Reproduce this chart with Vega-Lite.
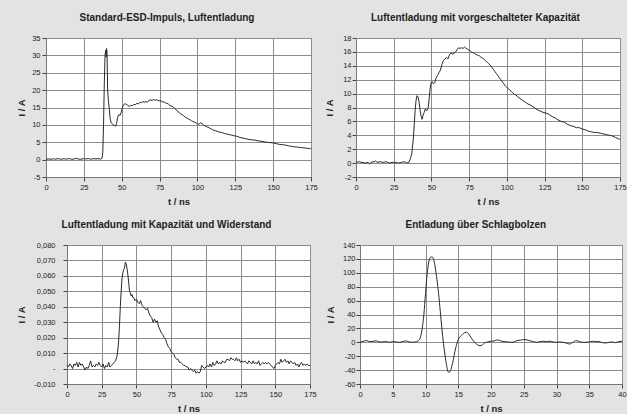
{
  "$schema": "https://vega.github.io/schema/vega-lite/v6.json",
  "background": "#e3e3e3",
  "padding": {"left": 3, "top": 12, "right": 0, "bottom": 0},
  "config": {
    "view": {"stroke": "#8a8a8a", "fill": "white"},
    "axis": {
      "gridColor": "#8c8c8c", "gridOpacity": 1, "gridWidth": 1,
      "domainColor": "#777", "tickColor": "#444", "tickSize": 4,
      "labelFont": "Liberation Sans", "labelFontSize": 7.5, "labelColor": "#222", "labelPadding": 2,
      "labelOverlap": false, "labelFlush": false,
      "titleFont": "Liberation Sans", "titleFontSize": 9.5, "titleFontWeight": "bold", "titleColor": "#222"
    },
    "axisX": {"titlePadding": 6},
    "axisY": {"titlePadding": 5},
    "title": {"font": "Liberation Sans", "fontSize": 10, "fontWeight": "bold", "color": "#222", "frame": "bounds", "anchor": "middle", "offset": 11},
    "line": {"color": "#2a2a2a", "strokeWidth": 1}
  },
  "datasets": {
    "p1": [{"t":0,"v":0.1},{"t":2,"v":0.2},{"t":4,"v":0.1},{"t":5,"v":0.3},{"t":6,"v":0.1},{"t":8,"v":0.3},{"t":9,"v":0.2},{"t":10,"v":0.1},{"t":12,"v":0.3},{"t":13,"v":0.1},{"t":15,"v":0.3},{"t":16,"v":0.2},{"t":18,"v":0.1},{"t":20,"v":0.4},{"t":21,"v":0.2},{"t":23,"v":0.1},{"t":25,"v":0.3},{"t":26,"v":0.2},{"t":28,"v":0.3},{"t":30,"v":0.1},{"t":31,"v":0.3},{"t":33,"v":0.2},{"t":35,"v":0.3},{"t":36,"v":0.1},{"t":37,"v":0.4},{"t":37.5,"v":2},{"t":38,"v":10},{"t":38.5,"v":22},{"t":39,"v":30},{"t":39.4,"v":31.5},{"t":39.7,"v":29.5},{"t":40,"v":32},{"t":40.3,"v":31},{"t":40.7,"v":20},{"t":41.2,"v":17},{"t":41.8,"v":14.5},{"t":42.3,"v":12},{"t":43,"v":10.6},{"t":44,"v":10.2},{"t":45,"v":9.9},{"t":46,"v":9.6},{"t":46.6,"v":10.4},{"t":47.3,"v":12.2},{"t":48,"v":12.9},{"t":49,"v":12.8},{"t":49.6,"v":13.5},{"t":50.5,"v":15.1},{"t":51.2,"v":15.8},{"t":52.2,"v":16.1},{"t":53,"v":15.9},{"t":54,"v":15.6},{"t":55,"v":15.3},{"t":56,"v":15.6},{"t":57,"v":15.5},{"t":58,"v":15.9},{"t":59,"v":15.8},{"t":60,"v":16.2},{"t":61,"v":16.0},{"t":62,"v":16.5},{"t":63,"v":16.4},{"t":64,"v":16.7},{"t":65,"v":16.5},{"t":66,"v":16.7},{"t":67,"v":16.5},{"t":68,"v":17.1},{"t":69,"v":17.2},{"t":70,"v":17.0},{"t":71,"v":17.3},{"t":72,"v":17.1},{"t":73,"v":17.2},{"t":74,"v":17.0},{"t":75,"v":16.9},{"t":76,"v":16.9},{"t":77,"v":16.6},{"t":78,"v":16.6},{"t":79,"v":16.3},{"t":80,"v":16.2},{"t":81,"v":15.9},{"t":82,"v":15.5},{"t":83,"v":15.4},{"t":84,"v":15.2},{"t":85,"v":14.7},{"t":86,"v":14.4},{"t":87,"v":13.8},{"t":88,"v":13.6},{"t":89,"v":13.1},{"t":90,"v":12.9},{"t":91,"v":12.6},{"t":92,"v":12.2},{"t":93,"v":12.0},{"t":94,"v":11.7},{"t":95,"v":11.5},{"t":96,"v":11.2},{"t":97,"v":11.0},{"t":98,"v":10.8},{"t":99,"v":10.6},{"t":100,"v":10.3},{"t":101,"v":10.1},{"t":102,"v":10.6},{"t":103,"v":10.4},{"t":104,"v":10.0},{"t":105,"v":9.7},{"t":106,"v":9.5},{"t":108,"v":9.1},{"t":110,"v":8.6},{"t":112,"v":8.3},{"t":114,"v":8.0},{"t":116,"v":7.8},{"t":118,"v":7.5},{"t":120,"v":7.3},{"t":122,"v":7.1},{"t":124,"v":6.9},{"t":126,"v":6.7},{"t":128,"v":6.4},{"t":130,"v":6.2},{"t":132,"v":6.0},{"t":134,"v":5.8},{"t":136,"v":5.7},{"t":138,"v":5.6},{"t":140,"v":5.4},{"t":142,"v":5.3},{"t":144,"v":5.1},{"t":146,"v":5.0},{"t":148,"v":4.9},{"t":150,"v":4.8},{"t":152,"v":4.6},{"t":154,"v":4.4},{"t":156,"v":4.3},{"t":158,"v":4.2},{"t":160,"v":4.0},{"t":162,"v":3.8},{"t":164,"v":3.7},{"t":166,"v":3.6},{"t":168,"v":3.5},{"t":170,"v":3.4},{"t":172,"v":3.3},{"t":174,"v":3.2},{"t":175,"v":3.1}],
    "p2": [{"t":0,"v":0.1},{"t":2,"v":0.2},{"t":4,"v":0.1},{"t":6,"v":0.0},{"t":8,"v":0.1},{"t":9,"v":-0.1},{"t":10,"v":0.1},{"t":12,"v":0.2},{"t":13,"v":0.3},{"t":14,"v":0.1},{"t":16,"v":0.2},{"t":18,"v":0.1},{"t":20,"v":0.2},{"t":22,"v":0.0},{"t":24,"v":0.1},{"t":26,"v":0.1},{"t":28,"v":0.0},{"t":30,"v":0.1},{"t":32,"v":0.2},{"t":34,"v":0.0},{"t":35,"v":0.1},{"t":36,"v":0.6},{"t":37,"v":1.4},{"t":38,"v":3.5},{"t":38.6,"v":5.5},{"t":39.2,"v":7.6},{"t":39.8,"v":9.0},{"t":40.4,"v":9.7},{"t":41.2,"v":9.5},{"t":41.8,"v":8.8},{"t":42.5,"v":7.6},{"t":43.2,"v":6.7},{"t":43.8,"v":6.3},{"t":44.5,"v":6.9},{"t":45.2,"v":7.3},{"t":46,"v":7.8},{"t":46.8,"v":7.5},{"t":47.4,"v":7.7},{"t":48,"v":8.2},{"t":48.6,"v":9.5},{"t":49.2,"v":10.8},{"t":49.8,"v":11.6},{"t":50.6,"v":11.7},{"t":51.4,"v":11.4},{"t":52.2,"v":11.6},{"t":53,"v":12.2},{"t":54,"v":12.6},{"t":55,"v":13.0},{"t":56,"v":13.4},{"t":57,"v":14.2},{"t":58,"v":14.8},{"t":59,"v":15.0},{"t":60,"v":15.2},{"t":61,"v":15.0},{"t":62,"v":15.6},{"t":63,"v":15.8},{"t":64,"v":15.7},{"t":65,"v":15.8},{"t":66,"v":16.0},{"t":67,"v":16.3},{"t":68,"v":16.6},{"t":69,"v":16.5},{"t":70,"v":16.6},{"t":71,"v":16.5},{"t":72,"v":16.7},{"t":73,"v":16.5},{"t":74,"v":16.4},{"t":75,"v":16.2},{"t":76,"v":16.1},{"t":77,"v":15.9},{"t":78,"v":15.9},{"t":79,"v":15.7},{"t":80,"v":15.6},{"t":81,"v":15.5},{"t":82,"v":15.4},{"t":83,"v":15.2},{"t":84,"v":15.1},{"t":85,"v":14.9},{"t":86,"v":14.7},{"t":87,"v":14.5},{"t":88,"v":14.3},{"t":89,"v":14.1},{"t":90,"v":13.8},{"t":91,"v":13.5},{"t":92,"v":13.2},{"t":93,"v":12.9},{"t":94,"v":12.6},{"t":95,"v":12.3},{"t":96,"v":12.0},{"t":97,"v":11.7},{"t":98,"v":11.4},{"t":99,"v":11.1},{"t":100,"v":10.9},{"t":101,"v":10.7},{"t":102,"v":10.5},{"t":103,"v":10.3},{"t":104,"v":10.1},{"t":105,"v":9.9},{"t":106,"v":9.8},{"t":108,"v":9.4},{"t":110,"v":9.1},{"t":112,"v":8.8},{"t":114,"v":8.5},{"t":116,"v":8.3},{"t":118,"v":8.0},{"t":120,"v":7.7},{"t":122,"v":7.5},{"t":124,"v":7.3},{"t":126,"v":7.2},{"t":128,"v":7.0},{"t":130,"v":6.7},{"t":132,"v":6.5},{"t":134,"v":6.2},{"t":136,"v":6.0},{"t":138,"v":5.9},{"t":140,"v":5.6},{"t":142,"v":5.4},{"t":144,"v":5.3},{"t":146,"v":5.1},{"t":148,"v":5.1},{"t":150,"v":4.9},{"t":152,"v":4.8},{"t":154,"v":4.6},{"t":156,"v":4.5},{"t":158,"v":4.4},{"t":160,"v":4.4},{"t":162,"v":4.3},{"t":164,"v":4.2},{"t":166,"v":4.1},{"t":168,"v":4.0},{"t":170,"v":3.9},{"t":172,"v":3.7},{"t":174,"v":3.5},{"t":175,"v":3.4}],
    "p3": [{"t":0,"v":0.002},{"t":1,"v":0.001},{"t":2,"v":0.003},{"t":3,"v":0.002},{"t":4,"v":0.0},{"t":5,"v":0.003},{"t":6,"v":0.002},{"t":7,"v":0.004},{"t":8,"v":0.001},{"t":9,"v":0.004},{"t":10,"v":0.002},{"t":11,"v":0.003},{"t":12,"v":0.001},{"t":13,"v":-0.001},{"t":14,"v":0.001},{"t":15,"v":0.0},{"t":16,"v":0.002},{"t":17,"v":0.005},{"t":18,"v":0.001},{"t":19,"v":0.002},{"t":20,"v":0.001},{"t":21,"v":0.003},{"t":22,"v":0.002},{"t":23,"v":0.004},{"t":24,"v":0.002},{"t":25,"v":0.001},{"t":26,"v":0.003},{"t":27,"v":0.0},{"t":28,"v":0.002},{"t":29,"v":0.001},{"t":30,"v":0.004},{"t":31,"v":0.001},{"t":32,"v":0.002},{"t":33,"v":0.003},{"t":34,"v":0.004},{"t":35,"v":0.005},{"t":36,"v":0.008},{"t":36.6,"v":0.012},{"t":37.2,"v":0.018},{"t":37.8,"v":0.028},{"t":38.4,"v":0.04},{"t":39,"v":0.05},{"t":39.6,"v":0.058},{"t":40.2,"v":0.062},{"t":40.8,"v":0.064},{"t":41.4,"v":0.065},{"t":42,"v":0.069},{"t":42.6,"v":0.068},{"t":43.2,"v":0.065},{"t":43.8,"v":0.061},{"t":44.4,"v":0.056},{"t":45,"v":0.05},{"t":45.6,"v":0.049},{"t":46.2,"v":0.047},{"t":46.8,"v":0.048},{"t":47.4,"v":0.046},{"t":48,"v":0.046},{"t":49,"v":0.044},{"t":50,"v":0.045},{"t":51,"v":0.043},{"t":52,"v":0.042},{"t":53,"v":0.044},{"t":54,"v":0.041},{"t":55,"v":0.04},{"t":56,"v":0.039},{"t":57,"v":0.038},{"t":58,"v":0.039},{"t":59,"v":0.036},{"t":60,"v":0.034},{"t":61,"v":0.033},{"t":62,"v":0.03},{"t":63,"v":0.032},{"t":64,"v":0.03},{"t":65,"v":0.031},{"t":66,"v":0.027},{"t":67,"v":0.025},{"t":68,"v":0.023},{"t":69,"v":0.022},{"t":70,"v":0.02},{"t":71,"v":0.019},{"t":72,"v":0.016},{"t":73,"v":0.014},{"t":74,"v":0.013},{"t":75,"v":0.011},{"t":76,"v":0.01},{"t":77,"v":0.009},{"t":78,"v":0.007},{"t":79,"v":0.006},{"t":80,"v":0.006},{"t":81,"v":0.004},{"t":82,"v":0.004},{"t":83,"v":0.003},{"t":84,"v":0.002},{"t":85,"v":0.002},{"t":86,"v":0.001},{"t":87,"v":0.001},{"t":88,"v":-0.001},{"t":89,"v":0.0},{"t":90,"v":-0.001},{"t":91,"v":-0.002},{"t":92,"v":-0.001},{"t":93,"v":-0.003},{"t":94,"v":-0.002},{"t":95,"v":-0.003},{"t":96,"v":-0.002},{"t":97,"v":0.002},{"t":98,"v":0.001},{"t":99,"v":0.0},{"t":100,"v":0.001},{"t":101,"v":0.002},{"t":102,"v":0.001},{"t":103,"v":0.003},{"t":104,"v":0.001},{"t":105,"v":0.004},{"t":106,"v":0.002},{"t":107,"v":0.003},{"t":108,"v":0.005},{"t":109,"v":0.003},{"t":110,"v":0.004},{"t":111,"v":0.003},{"t":112,"v":0.005},{"t":113,"v":0.004},{"t":114,"v":0.004},{"t":115,"v":0.006},{"t":116,"v":0.006},{"t":117,"v":0.005},{"t":118,"v":0.007},{"t":119,"v":0.006},{"t":120,"v":0.006},{"t":121,"v":0.005},{"t":122,"v":0.007},{"t":123,"v":0.005},{"t":124,"v":0.006},{"t":125,"v":0.004},{"t":126,"v":0.005},{"t":127,"v":0.004},{"t":128,"v":0.005},{"t":129,"v":0.004},{"t":130,"v":0.003},{"t":131,"v":0.005},{"t":132,"v":0.004},{"t":133,"v":0.003},{"t":134,"v":0.005},{"t":135,"v":0.003},{"t":136,"v":0.004},{"t":137,"v":0.003},{"t":138,"v":0.005},{"t":139,"v":0.002},{"t":140,"v":0.003},{"t":141,"v":0.004},{"t":142,"v":0.003},{"t":143,"v":0.004},{"t":144,"v":0.003},{"t":145,"v":0.004},{"t":146,"v":0.003},{"t":147,"v":0.002},{"t":148,"v":0.001},{"t":149,"v":0.0},{"t":150,"v":0.002},{"t":151,"v":0.003},{"t":152,"v":0.004},{"t":153,"v":0.003},{"t":154,"v":0.006},{"t":155,"v":0.004},{"t":156,"v":0.005},{"t":157,"v":0.006},{"t":158,"v":0.004},{"t":159,"v":0.005},{"t":160,"v":0.003},{"t":161,"v":0.005},{"t":162,"v":0.004},{"t":163,"v":0.003},{"t":164,"v":0.004},{"t":165,"v":0.002},{"t":166,"v":0.003},{"t":167,"v":0.001},{"t":168,"v":0.003},{"t":169,"v":0.004},{"t":170,"v":0.002},{"t":171,"v":0.003},{"t":172,"v":0.002},{"t":173,"v":0.003},{"t":174,"v":0.002},{"t":175,"v":0.002}],
    "p4": [{"t":0,"v":0},{"t":0.5,"v":1.5},{"t":1,"v":2.5},{"t":1.5,"v":1},{"t":2,"v":1.5},{"t":2.5,"v":2},{"t":3,"v":0.5},{"t":3.5,"v":0.5},{"t":4,"v":1},{"t":4.5,"v":0},{"t":5,"v":1},{"t":5.5,"v":0.5},{"t":6,"v":0},{"t":6.5,"v":1},{"t":7,"v":2},{"t":7.5,"v":0.5},{"t":8,"v":0},{"t":8.5,"v":0.5},{"t":9,"v":3},{"t":9.25,"v":8},{"t":9.5,"v":20},{"t":9.75,"v":40},{"t":10,"v":70},{"t":10.25,"v":98},{"t":10.5,"v":116},{"t":10.75,"v":122},{"t":11,"v":123},{"t":11.25,"v":119},{"t":11.5,"v":107},{"t":11.75,"v":90},{"t":12,"v":70},{"t":12.25,"v":45},{"t":12.5,"v":20},{"t":12.75,"v":-2},{"t":13,"v":-20},{"t":13.25,"v":-35},{"t":13.5,"v":-43},{"t":13.75,"v":-42},{"t":14,"v":-35},{"t":14.25,"v":-25},{"t":14.5,"v":-13},{"t":14.75,"v":-3},{"t":15,"v":4},{"t":15.5,"v":10},{"t":16,"v":14},{"t":16.3,"v":14.5},{"t":16.6,"v":12},{"t":17,"v":6},{"t":17.5,"v":0},{"t":18,"v":-4},{"t":18.3,"v":-5},{"t":18.7,"v":-3.5},{"t":19,"v":-1},{"t":19.5,"v":0.5},{"t":20,"v":1.5},{"t":20.5,"v":2},{"t":21,"v":3.5},{"t":21.5,"v":2},{"t":22,"v":1},{"t":22.5,"v":0.5},{"t":23,"v":0},{"t":23.5,"v":0.5},{"t":24,"v":2.5},{"t":24.5,"v":3},{"t":25,"v":4},{"t":25.5,"v":3.5},{"t":26,"v":2},{"t":26.5,"v":1},{"t":27,"v":0},{"t":27.5,"v":1},{"t":28,"v":1.5},{"t":28.5,"v":1},{"t":29,"v":1.5},{"t":29.5,"v":0.5},{"t":30,"v":0},{"t":30.5,"v":0.5},{"t":31,"v":0},{"t":31.5,"v":-1},{"t":32,"v":-2.5},{"t":32.5,"v":0},{"t":33,"v":2.5},{"t":33.5,"v":1},{"t":34,"v":0},{"t":34.5,"v":0},{"t":35,"v":0.5},{"t":35.5,"v":1.5},{"t":36,"v":1},{"t":36.5,"v":1},{"t":37,"v":-0.5},{"t":37.5,"v":-1},{"t":38,"v":0},{"t":38.5,"v":0.5},{"t":39,"v":-0.5},{"t":39.5,"v":1},{"t":40,"v":1.5}]
  },
  "spacing": 12,
  "vconcat": [
    {
      "spacing": 6,
      "hconcat": [
        {"width": 7, "height": 1, "data": {"values": []}, "mark": "point", "view": {"fill": null, "stroke": null}},
        {
          "width": 265, "height": 139,
          "title": "Standard-ESD-Impuls, Luftentladung",
          "data": {"name": "p1"},
          "mark": {"type": "line"},
          "encoding": {
            "x": {"field": "t", "type": "quantitative", "scale": {"domain": [0, 175], "nice": false, "zero": false},
                  "axis": {"values": [0,25,50,75,100,125,150,175], "title": "t / ns"}},
            "y": {"field": "v", "type": "quantitative", "scale": {"domain": [-5, 35], "nice": false},
                  "axis": {"values": [-5,0,5,10,15,20,25,30,35], "title": "I / A", "labelExpr": "'' + datum.value"}}
          }
        },
        {
          "width": 264, "height": 139,
          "title": "Luftentladung mit vorgeschalteter Kapazität",
          "data": {"name": "p2"},
          "mark": {"type": "line"},
          "encoding": {
            "x": {"field": "t", "type": "quantitative", "scale": {"domain": [0, 175], "nice": false, "zero": false},
                  "axis": {"values": [0,25,50,75,100,125,150,175], "title": "t / ns"}},
            "y": {"field": "v", "type": "quantitative", "scale": {"domain": [-2, 18], "nice": false},
                  "axis": {"values": [-2,0,2,4,6,8,10,12,14,16,18], "title": "I / A", "titlePadding": 8, "labelPadding": 1, "labelExpr": "'' + datum.value"}}
          }
        }
      ]
    },
    {
      "spacing": 7,
      "hconcat": [
        {"width": 6, "height": 1, "data": {"values": []}, "mark": "point", "view": {"fill": null, "stroke": null}},
        {
          "width": 243, "height": 139,
          "title": "Luftentladung mit Kapazität und Widerstand",
          "data": {"name": "p3"},
          "mark": {"type": "line"},
          "encoding": {
            "x": {"field": "t", "type": "quantitative", "scale": {"domain": [0, 175], "nice": false, "zero": false},
                  "axis": {"values": [0,25,50,75,100,125,150,175], "title": "t / ns"}},
            "y": {"field": "v", "type": "quantitative", "scale": {"domain": [-0.01, 0.08], "nice": false},
                  "axis": {"values": [-0.01,0,0.01,0.02,0.03,0.04,0.05,0.06,0.07,0.08], "title": "I / A", "titlePadding": 7, "labelPadding": 8,
                           "labelExpr": "abs(datum.value) < 1e-9 ? '-' : (datum.value < 0 ? '-' : '') + replace(format(abs(datum.value), '.3f'), '.', ',')"}}
          }
        },
        {
          "width": 262, "height": 139,
          "title": "Entladung über Schlagbolzen",
          "data": {"name": "p4"},
          "mark": {"type": "line", "interpolate": "monotone"},
          "encoding": {
            "x": {"field": "t", "type": "quantitative", "scale": {"domain": [0, 40], "nice": false, "zero": false},
                  "axis": {"values": [0,5,10,15,20,25,30,35,40], "title": "t / ns"}},
            "y": {"field": "v", "type": "quantitative", "scale": {"domain": [-60, 140], "nice": false},
                  "axis": {"values": [-60,-40,-20,0,20,40,60,80,100,120,140], "title": "I / A", "titlePadding": 7, "labelPadding": 1, "labelExpr": "'' + datum.value"}}
          }
        }
      ]
    }
  ]
}
